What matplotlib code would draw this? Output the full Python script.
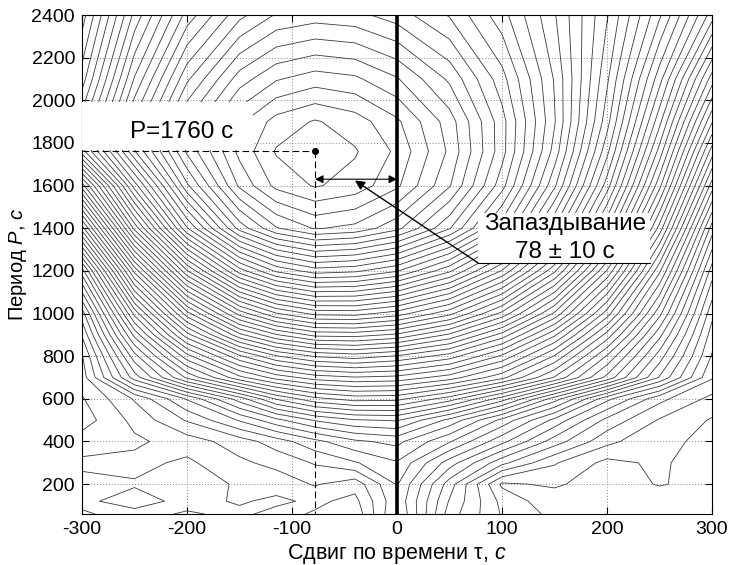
import numpy as np
import matplotlib
matplotlib.use('Agg')
import matplotlib.pyplot as plt
from matplotlib.patches import Rectangle

# plot settings
figXsize = 7.37
figYsize = 5.65
fontName = ['Liberation Sans', 'DejaVu Sans']
lineColor = '#3a3a3a'
xlabel = 'Сдвиг по времени τ, $с$'
ylabel = 'Период $P$, $с$'

# grid of the correlation field (contour step = 1)
taus = [-300, -250, -200, -150, -115, -78, -40, 0, 50, 100, 150, 200, 250, 300]
periods = [60, 120, 200, 300, 400, 500, 600, 700, 800, 900, 1000, 1200, 1400, 1600, 1760, 1900, 2100, 2400]
row60 = [0.6, 0.2, 0.6, 0.3, 0.8, 0.4, -0.2, 3.6, -2.0, -4.6, -5.8, -6.4, -5.6, -6.1]
row120 = [0.3, 0.9, 0.2, 0.6, 0.3, 0.7, 0.2, 3.3, -1.6, -4.8, -6.2, -5.7, -6.3, -5.8]
row200 = [0.2, 0.4, -0.3, 0.7, 0.9, 1.6, 0.9, 3.6, -1.0, -5.7, -5.3, -6.2, -5.4, -6.0]
row300 = [0.7, 0.8, 0.3, 1.3, 1.8, 2.6, 3.4, 4.4, 1.0, -2.2, -4.4, -5.8, -5.3, -6.2]
row400 = [0.0, 0.3, 1.0, 2.0, 3.0, 4.2, 5.3, 5.8, 3.6, 0.8, -2.0, -4.2, -5.4, -5.6]
row500 = [-1.0, 0.8, 2.6, 4.6, 6.2, 7.6, 8.4, 8.6, 6.2, 3.2, 0.2, -2.8, -4.6, -5.6]
row600 = [-0.6, 1.6, 4.6, 8.0, 10.6, 12.2, 12.9, 12.8, 11.0, 8.0, 4.0, -0.2, -3.2, -4.8]
row700 = [0.0, 6.0, 10.7, 14.2, 15.9, 17.0, 17.4, 17.2, 16.0, 13.8, 10.4, 6.2, 1.4, -3.4]
row800 = [0.4, 8.1, 14.1, 18.3, 20.4, 21.6, 22.0, 21.4, 20.0, 17.3, 13.4, 8.4, 3.0, -2.6]
row900 = [1.6, 10.8, 18.1, 23.2, 25.4, 26.8, 26.9, 26.3, 24.3, 21.1, 16.7, 11.1, 4.8, -2.0]
row1000 = [3.0, 13.8, 22.1, 27.9, 30.4, 31.8, 31.9, 31.0, 28.8, 25.2, 20.3, 14.0, 6.8, -1.2]
row1200 = [8.0, 20.8, 30.4, 37.0, 39.7, 41.0, 40.7, 39.6, 36.7, 32.4, 26.7, 19.4, 10.7, 1.0]
row1400 = [16.0, 28.8, 38.4, 44.9, 47.4, 48.6, 48.2, 46.8, 43.6, 38.9, 32.4, 24.6, 15.1, 4.0]
row1600 = [24.0, 35.0, 43.3, 48.7, 50.8, 51.6, 51.1, 49.7, 46.6, 41.9, 35.7, 28.0, 18.8, 8.0]
row1760 = [31.0, 39.4, 45.7, 49.8, 51.6, 52.0, 51.6, 50.3, 47.3, 42.9, 37.1, 29.8, 21.1, 11.0]
row1900 = [32.0, 39.7, 45.6, 49.3, 50.9, 51.6, 51.0, 49.7, 47.0, 42.9, 37.6, 30.9, 22.8, 13.6]
row2100 = [30.0, 37.6, 43.3, 47.0, 48.4, 49.0, 48.7, 47.6, 45.3, 41.9, 37.4, 31.7, 24.9, 17.0]
row2400 = [28.0, 34.8, 39.9, 43.2, 44.6, 45.0, 44.8, 44.0, 42.4, 39.9, 36.6, 32.6, 27.7, 22.0]

# annotation values
peakTau = -78
peakPeriod = 1760
delayError = 10


def plotData():
    field = np.array([row60, row120, row200, row300, row400, row500, row600, row700, row800,
                      row900, row1000, row1200, row1400, row1600, row1760, row1900, row2100, row2400])
    levels = np.arange(np.floor(field.min()) - 0.5, field.max(), 1.0)

    plt.rcParams['font.family'] = fontName
    plt.rcParams['axes.unicode_minus'] = False
    plt.rcParams['mathtext.fontset'] = 'custom'
    plt.rcParams['mathtext.it'] = 'Liberation Sans:italic'
    plt.rcParams['mathtext.rm'] = 'Liberation Sans'

    fig = plt.figure(figsize=(figXsize, figYsize), dpi=100)
    ax = fig.add_axes([82 / 737, 1 - 514 / 565, 630 / 737, 499 / 565])

    ax.contour(taus, periods, field, levels=levels, colors=lineColor, linewidths=0.6,
               linestyles='solid', zorder=2)

    ax.set_xlim(-300, 300)
    ax.set_ylim(60, 2400)
    ax.set_xticks(np.arange(-300, 301, 100))
    ax.set_yticks(np.arange(200, 2401, 200))
    ax.grid(True, linestyle=(0, (1, 2)), color='#888888', linewidth=0.7, zorder=1)
    ax.tick_params(direction='in', top=True, right=True, length=5, width=0.8, pad=5, labelsize=14)
    for s in ax.spines.values():
        s.set_linewidth(0.8)
    ax.set_xlabel(xlabel, fontsize=15.5, labelpad=3)
    ax.set_ylabel(ylabel, fontsize=14.5, labelpad=2)

    # thick line at zero lag
    ax.axvline(0, color='k', lw=2.6, zorder=4)

    # peak marker and dashed guides
    ax.plot([-300, peakTau], [peakPeriod, peakPeriod], color='k', lw=0.8, dashes=(6, 3), zorder=5)
    ax.plot([peakTau, peakTau], [peakPeriod, 60], color='k', lw=0.8, dashes=(6, 3), zorder=5)
    ax.plot(peakTau, peakPeriod, 'ko', ms=4, zorder=6)

    # P=1760 label on white box
    ax.add_patch(Rectangle((-300, peakPeriod + 5), 163, 226, fc='white', ec='none', zorder=3))
    ax.text(-205, 1849, 'P=' + str(peakPeriod) + ' с', fontsize=17.5, ha='center', va='center', zorder=6)

    # delay double arrow
    ax.annotate('', xy=(peakTau, 1630), xytext=(0, 1630),
                arrowprops=dict(arrowstyle='<|-|>', color='k', lw=0.8, mutation_scale=12,
                                shrinkA=0, shrinkB=0), zorder=6)

    # delay text box with leader
    ax.add_patch(Rectangle((77, 1238), 164, 235, fc='white', ec='none', zorder=3))
    ax.plot([77, 241], [1238, 1238], color='k', lw=0.8, zorder=6)
    ax.text(160, 1418, 'Запаздывание', fontsize=17.5, ha='center', va='center', zorder=6)
    ax.text(160, 1288, str(-peakTau) + ' ± ' + str(delayError) + ' с', fontsize=17.5,
            ha='center', va='center', zorder=6)
    ax.annotate('', xy=(-40, 1624), xytext=(77, 1238),
                arrowprops=dict(arrowstyle='-|>', color='k', lw=1.0, mutation_scale=14,
                                shrinkA=0, shrinkB=0), zorder=6)

    fig.savefig('out.png', dpi=100)


if __name__ == "__main__":
    plotData()
